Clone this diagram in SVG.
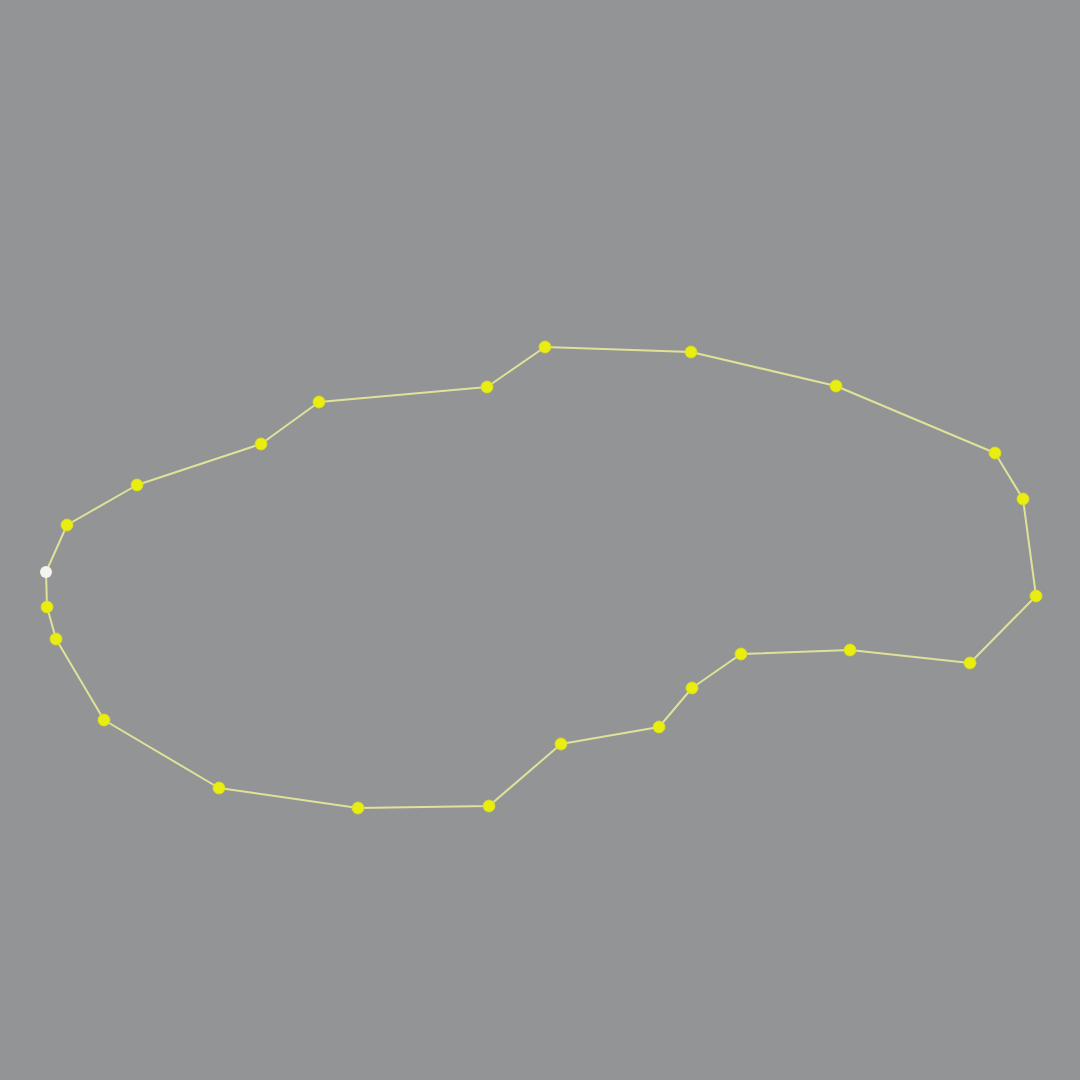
<svg xmlns="http://www.w3.org/2000/svg" width="1080" height="1080" viewBox="0 0 1080 1080">
<style>
.edge{fill:none;stroke:#dfe29a;stroke-width:2;stroke-linejoin:round}
.pt{fill:#e9ee10;stroke:#d8dc20;stroke-width:0.8}
.start{fill:#f4f4f0}
</style>
<rect width="1080" height="1080" fill="#939495"/>
<g id="connectors">
<polygon class="edge" points="46,572 67,525 137,485 261,444 319,402 487,387 545,347 691,352 836,386 995,453 1023,499 1036,596 970,663 850,650 741,654 692,688 659,727 561,744 489,806 358,808 219,788 104,720 56,639 47,607"/>
</g>
<g id="points">
<circle id="p1" class="start" cx="46" cy="572" r="6"/>
<circle id="p2" class="pt" cx="67" cy="525" r="6"/>
<circle id="p3" class="pt" cx="137" cy="485" r="6"/>
<circle id="p4" class="pt" cx="261" cy="444" r="6"/>
<circle id="p5" class="pt" cx="319" cy="402" r="6"/>
<circle id="p6" class="pt" cx="487" cy="387" r="6"/>
<circle id="p7" class="pt" cx="545" cy="347" r="6"/>
<circle id="p8" class="pt" cx="691" cy="352" r="6"/>
<circle id="p9" class="pt" cx="836" cy="386" r="6"/>
<circle id="p10" class="pt" cx="995" cy="453" r="6"/>
<circle id="p11" class="pt" cx="1023" cy="499" r="6"/>
<circle id="p12" class="pt" cx="1036" cy="596" r="6"/>
<circle id="p13" class="pt" cx="970" cy="663" r="6"/>
<circle id="p14" class="pt" cx="850" cy="650" r="6"/>
<circle id="p15" class="pt" cx="741" cy="654" r="6"/>
<circle id="p16" class="pt" cx="692" cy="688" r="6"/>
<circle id="p17" class="pt" cx="659" cy="727" r="6"/>
<circle id="p18" class="pt" cx="561" cy="744" r="6"/>
<circle id="p19" class="pt" cx="489" cy="806" r="6"/>
<circle id="p20" class="pt" cx="358" cy="808" r="6"/>
<circle id="p21" class="pt" cx="219" cy="788" r="6"/>
<circle id="p22" class="pt" cx="104" cy="720" r="6"/>
<circle id="p23" class="pt" cx="56" cy="639" r="6"/>
<circle id="p24" class="pt" cx="47" cy="607" r="6"/>
</g>
</svg>
